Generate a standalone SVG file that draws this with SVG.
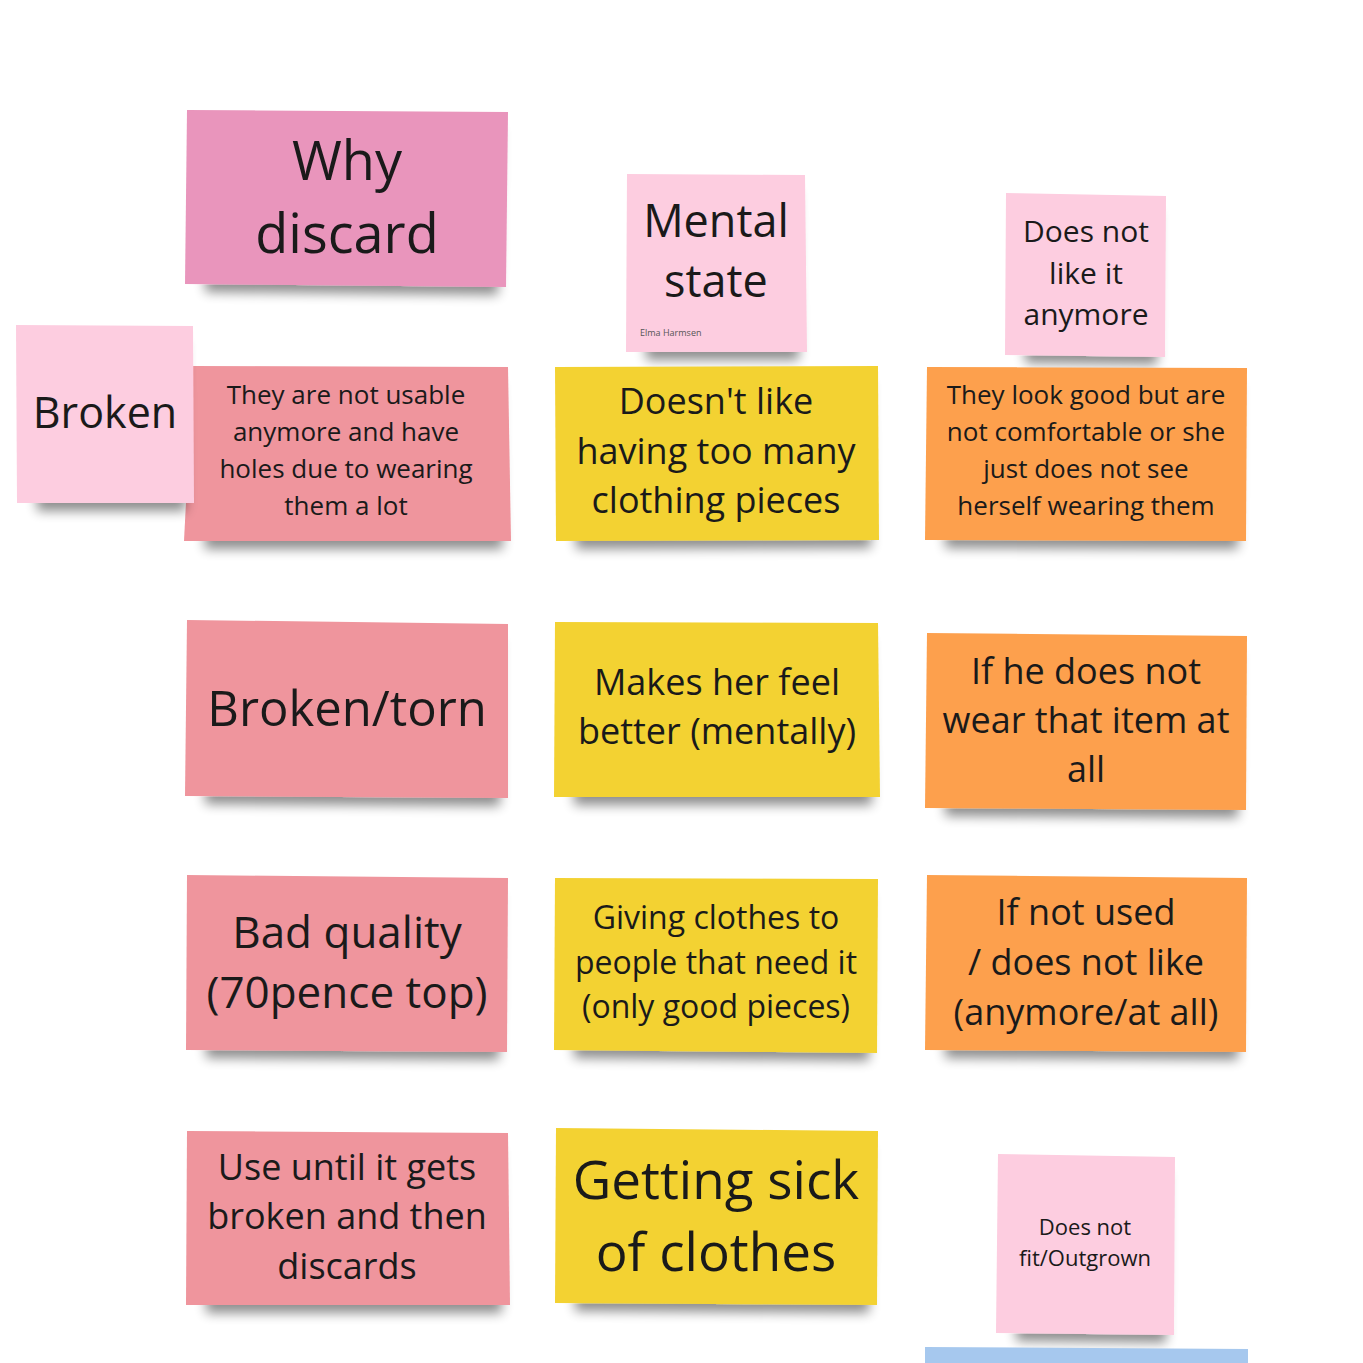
<svg xmlns="http://www.w3.org/2000/svg" width="1363" height="1363" viewBox="0 0 1363 1363">
<defs>
<filter id="sh" x="-10%" y="-10%" width="120%" height="140%">
<feMorphology in="SourceAlpha" operator="erode" radius="14 4" result="e"/>
<feOffset in="e" dx="6" dy="12" result="o"/>
<feGaussianBlur in="o" stdDeviation="6" result="b"/>
<feComponentTransfer in="b" result="s"><feFuncA type="linear" slope="0.45"/></feComponentTransfer>
<feMerge><feMergeNode in="s"/><feMergeNode in="SourceGraphic"/></feMerge>
</filter>
<style>
.n{filter:url(#sh)}
.mag{fill:#E995BC}
.lp{fill:#FDCDE0}
.red{fill:#EF959D}
.yel{fill:#F3D232}
.org{fill:#FDA04E}
text{font-family:"Open Sans","Noto Sans","Liberation Sans",sans-serif;fill:#1a1a1a;text-anchor:middle}
</style>
</defs>
<rect width="1363" height="1363" fill="#ffffff"/>
<g id="connectors"></g>

<g id="why-discard">
<polygon class="n mag" points="187,110 508,112 506,287 185,284"/>
<text x="347" y="180" font-size="54">Why</text>
<text x="347" y="253" font-size="54">discard</text>
</g>

<g id="mental-state">
<polygon class="n lp" points="627,174 805,175 807,352 626,352"/>
<text x="716" y="237" font-size="45">Mental</text>
<text x="716" y="297" font-size="45">state</text>
<text x="640" y="336" font-size="9" style="text-anchor:start;fill:#555">Elma Harmsen</text>
</g>

<g id="does-not-like">
<polygon class="n lp" points="1006,193 1166,196 1165,357 1005,355"/>
<text x="1086" y="242" font-size="30">Does not</text>
<text x="1086" y="284" font-size="30">like it</text>
<text x="1086" y="325" font-size="30">anymore</text>
</g>

<g id="not-usable">
<polygon class="n red" points="193,366 508,367 511,541 184,541"/>
<text x="346" y="404" font-size="26">They are not usable</text>
<text x="346" y="441" font-size="26">anymore and have</text>
<text x="346" y="478" font-size="26">holes due to wearing</text>
<text x="346" y="515" font-size="26">them a lot</text>
</g>

<g id="broken">
<polygon class="n lp" points="16,325 193,326 194,503 17,503"/>
<text x="105" y="428" font-size="43">Broken</text>
</g>

<g id="too-many">
<polygon class="n yel" points="555,367 878,366 879,540 556,541"/>
<text x="716" y="414" font-size="36">Doesn't like</text>
<text x="716" y="464" font-size="36">having too many</text>
<text x="716" y="513" font-size="36">clothing pieces</text>
</g>

<g id="look-good">
<polygon class="n org" points="927,367 1247,368 1246,541 925,540"/>
<text x="1086" y="404" font-size="26">They look good but are</text>
<text x="1086" y="441" font-size="26">not comfortable or she</text>
<text x="1086" y="478" font-size="26">just does not see</text>
<text x="1086" y="515" font-size="26">herself wearing them</text>
</g>

<g id="broken-torn">
<polygon class="n red" points="187,620 508,624 508,798 185,796"/>
<text x="347" y="726" font-size="49">Broken/torn</text>
</g>

<g id="feel-better">
<polygon class="n yel" points="555,622 878,623 880,797 554,797"/>
<text x="717" y="695" font-size="36">Makes her feel</text>
<text x="717" y="744" font-size="36">better (mentally)</text>
</g>

<g id="not-wear">
<polygon class="n org" points="927,633 1247,636 1246,810 925,808"/>
<text x="1086" y="684" font-size="36">If he does not</text>
<text x="1086" y="733" font-size="36">wear that item at</text>
<text x="1086" y="782" font-size="36">all</text>
</g>

<g id="bad-quality">
<polygon class="n red" points="187,875 508,878 507,1052 186,1050"/>
<text x="347" y="948" font-size="44">Bad quality</text>
<text x="347" y="1008" font-size="44">(70pence top)</text>
</g>

<g id="giving">
<polygon class="n yel" points="555,878 878,879 877,1053 554,1050"/>
<text x="716" y="929" font-size="32">Giving clothes to</text>
<text x="716" y="974" font-size="32">people that need it</text>
<text x="716" y="1018" font-size="32">(only good pieces)</text>
</g>

<g id="not-used">
<polygon class="n org" points="927,875 1247,878 1246,1052 925,1050"/>
<text x="1086" y="925" font-size="36">If not used</text>
<text x="1086" y="975" font-size="36">/ does not like</text>
<text x="1086" y="1025" font-size="36">(anymore/at all)</text>
</g>

<g id="use-until">
<polygon class="n red" points="187,1131 508,1133 510,1305 186,1305"/>
<text x="347" y="1180" font-size="36">Use until it gets</text>
<text x="347" y="1229" font-size="36">broken and then</text>
<text x="347" y="1279" font-size="36">discards</text>
</g>

<g id="sick-of-clothes">
<polygon class="n yel" points="556,1128 878,1131 877,1305 555,1303"/>
<text x="716" y="1199" font-size="53">Getting sick</text>
<text x="716" y="1271" font-size="53">of clothes</text>
</g>

<g id="outgrown">
<polygon class="n lp" points="998,1154 1175,1157 1174,1335 996,1333"/>
<text x="1085" y="1235" font-size="22">Does not</text>
<text x="1085" y="1266" font-size="22">fit/Outgrown</text>
</g>

<g id="blue-note">
<polygon fill="#A6C8EE" points="925,1347 1248,1349 1248,1363 925,1363"/>
</g>
</svg>
